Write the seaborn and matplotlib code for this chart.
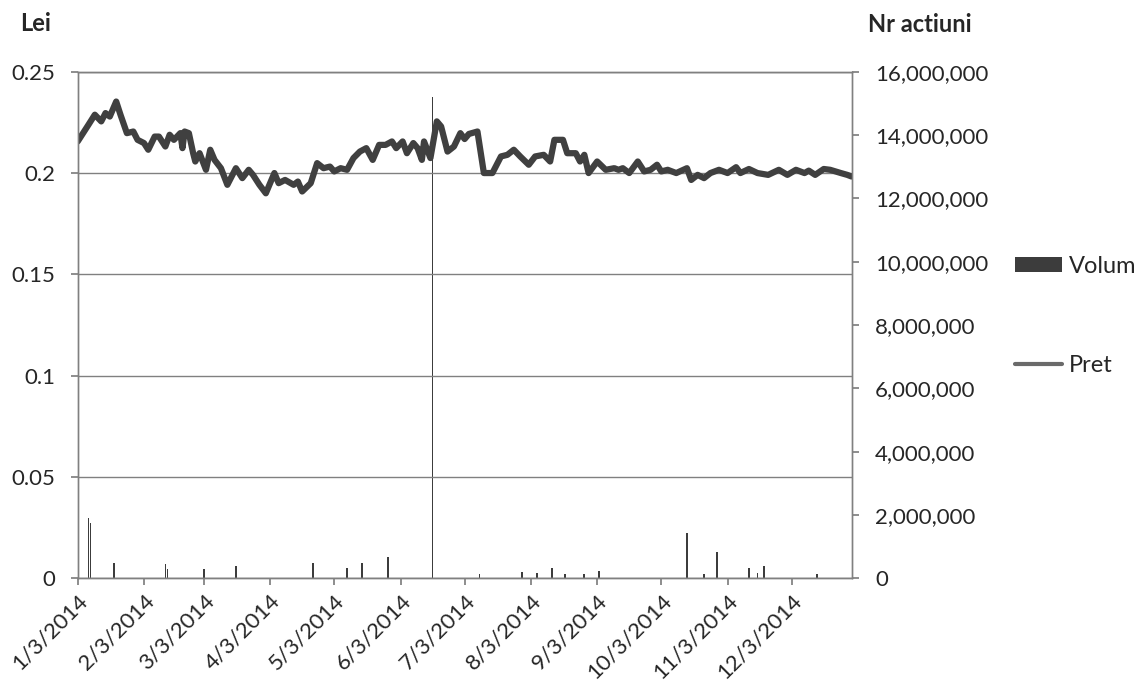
import matplotlib
matplotlib.use("Agg")
import matplotlib.pyplot as plt
import matplotlib.dates as mdates
import matplotlib.ticker as mticker
from matplotlib.patches import Patch
from matplotlib.lines import Line2D
import seaborn as sns
import pandas as pd

# Pret (Lei)
price_dates = [
    "2014-01-03", "2014-01-08", "2014-01-11", "2014-01-14", "2014-01-16", "2014-01-18",
    "2014-01-21", "2014-01-23", "2014-01-26", "2014-01-29", "2014-01-31", "2014-02-03",
    "2014-02-05", "2014-02-08", "2014-02-10", "2014-02-13", "2014-02-15", "2014-02-17",
    "2014-02-20", "2014-02-21", "2014-02-22", "2014-02-24", "2014-02-26", "2014-02-27",
    "2014-03-01", "2014-03-04", "2014-03-06", "2014-03-08", "2014-03-11", "2014-03-14",
    "2014-03-18", "2014-03-21", "2014-03-24", "2014-03-26", "2014-03-29", "2014-04-01",
    "2014-04-05", "2014-04-07", "2014-04-10", "2014-04-14", "2014-04-16", "2014-04-18",
    "2014-04-22", "2014-04-25", "2014-04-28", "2014-05-01", "2014-05-03", "2014-05-06",
    "2014-05-09", "2014-05-12", "2014-05-15", "2014-05-18", "2014-05-21", "2014-05-24",
    "2014-05-27", "2014-05-30", "2014-06-01", "2014-06-04", "2014-06-06", "2014-06-09",
    "2014-06-11", "2014-06-13", "2014-06-14", "2014-06-17", "2014-06-20", "2014-06-22",
    "2014-06-25", "2014-06-28", "2014-07-01", "2014-07-03", "2014-07-05", "2014-07-09",
    "2014-07-12", "2014-07-16", "2014-07-20", "2014-07-23", "2014-07-26", "2014-07-29",
    "2014-08-02", "2014-08-05", "2014-08-09", "2014-08-12", "2014-08-14", "2014-08-18",
    "2014-08-20", "2014-08-24", "2014-08-26", "2014-08-28", "2014-08-30", "2014-09-03",
    "2014-09-07", "2014-09-11", "2014-09-13", "2014-09-15", "2014-09-18", "2014-09-22",
    "2014-09-25", "2014-09-28", "2014-10-01", "2014-10-03", "2014-10-06", "2014-10-10",
    "2014-10-15", "2014-10-17", "2014-10-20", "2014-10-23", "2014-10-26", "2014-10-30",
    "2014-11-03", "2014-11-07", "2014-11-09", "2014-11-13", "2014-11-17", "2014-11-22",
    "2014-11-27", "2014-12-01", "2014-12-05", "2014-12-09", "2014-12-11", "2014-12-14",
    "2014-12-18", "2014-12-21", "2014-12-26", "2014-12-29", "2014-12-31",
]
price_values = [
    0.2156, 0.2238, 0.2288, 0.2255, 0.2296, 0.2279,
    0.2353, 0.2288, 0.2197, 0.2205, 0.2164, 0.2148,
    0.2115, 0.2180, 0.2180, 0.2131, 0.2189, 0.2164,
    0.2197, 0.2123, 0.2205, 0.2197, 0.2098, 0.2057,
    0.2098, 0.2016, 0.2115, 0.2065, 0.2024, 0.1942,
    0.2024, 0.1975, 0.2016, 0.1991, 0.1942, 0.1900,
    0.2000, 0.1950, 0.1966, 0.1942, 0.1958, 0.1909,
    0.1950, 0.2049, 0.2024, 0.2032, 0.2008, 0.2024,
    0.2016, 0.2074, 0.2106, 0.2123, 0.2065, 0.2139,
    0.2139, 0.2156, 0.2123, 0.2156, 0.2098, 0.2148,
    0.2123, 0.2065, 0.2156, 0.2074, 0.2255, 0.2230,
    0.2106, 0.2131, 0.2197, 0.2168, 0.2193, 0.2205,
    0.2000, 0.2000, 0.2082, 0.2090, 0.2115, 0.2082,
    0.2041, 0.2082, 0.2090, 0.2057, 0.2164, 0.2164,
    0.2098, 0.2098, 0.2057, 0.2090, 0.2000, 0.2057,
    0.2016, 0.2024, 0.2016, 0.2024, 0.2000, 0.2057,
    0.2008, 0.2016, 0.2041, 0.2008, 0.2016, 0.2000,
    0.2024, 0.1966, 0.1991, 0.1975, 0.2000, 0.2016,
    0.2000, 0.2029, 0.2000, 0.2020, 0.2000, 0.1991,
    0.2016, 0.1991, 0.2016, 0.2000, 0.2012, 0.1991,
    0.2020, 0.2016, 0.2000, 0.1991, 0.1983,
]

# Volum (Nr actiuni)
volume_dates = [
    "2014-01-08", "2014-01-09", "2014-01-20", "2014-02-13", "2014-02-14", "2014-03-03",
    "2014-03-18", "2014-04-23", "2014-05-09", "2014-05-16", "2014-05-28", "2014-06-18",
    "2014-07-10", "2014-07-30", "2014-08-06", "2014-08-13", "2014-08-19", "2014-08-28",
    "2014-09-04", "2014-10-15", "2014-10-23", "2014-10-29", "2014-11-13", "2014-11-17",
    "2014-11-20", "2014-12-15",
]
volume_values = [
    1900000, 1740000, 470000, 440000, 280000, 280000,
    380000, 470000, 320000, 470000, 660000, 15200000,
    130000, 190000, 160000, 320000, 130000, 130000,
    220000, 1420000, 130000, 820000, 320000, 160000,
    380000, 130000,
]

price = pd.DataFrame({"Data": pd.to_datetime(price_dates), "Pret": price_values})
volume = pd.DataFrame({"Data": pd.to_datetime(volume_dates), "Volum": volume_values})

sns.set_theme(style="white")
plt.rcParams["font.family"] = ["Lato", "DejaVu Sans"]

grid_col = "#808080"
line_col = "#404040"
bar_col = "#3c3c3c"

fig = plt.figure(figsize=(11.43, 6.9), dpi=100)
ax = fig.add_axes([0.068, 0.162, 0.677, 0.734])
ax2 = ax.twinx()

ax2.bar(volume["Data"], volume["Volum"], width=0.8, color=bar_col, linewidth=0)
sns.lineplot(data=price, x="Data", y="Pret", ax=ax, color=line_col, linewidth=4.5)

# price on top of the volume bars
ax.set_zorder(ax2.get_zorder() + 1)
ax.patch.set_visible(False)

ax.set_xlim(pd.Timestamp("2014-01-03"), pd.Timestamp("2014-12-31"))
ax.set_ylim(0, 0.25)
ax2.set_ylim(0, 16000000)

ax.set_yticks([0, 0.05, 0.1, 0.15, 0.2, 0.25])
ax.yaxis.set_major_formatter(mticker.FuncFormatter(lambda v, p: "0" if v == 0 else f"{v:g}"))
ax2.set_yticks(range(0, 16000001, 2000000))
ax2.yaxis.set_major_formatter(mticker.FuncFormatter(lambda v, p: f"{int(v):,}"))

ax.xaxis.set_major_locator(mdates.MonthLocator(bymonthday=3))
ax.xaxis.set_major_formatter(mticker.FuncFormatter(
    lambda v, p: f"{mdates.num2date(v).month}/{mdates.num2date(v).day}/{mdates.num2date(v).year}"))

ax.grid(axis="y", color=grid_col, linewidth=1)
ax.grid(axis="x", visible=False)
ax2.grid(False)

ax.set_xlabel("")
ax.set_ylabel("")
ax2.set_ylabel("")

for a in (ax, ax2):
    for s in a.spines.values():
        s.set_color(grid_col)
        s.set_linewidth(1)

ax.tick_params(axis="y", labelsize=16, length=5, color=grid_col, direction="out", left=True, pad=11)
ax2.tick_params(axis="y", labelsize=16, length=5, color=grid_col, direction="out", right=True, pad=12)
ax.tick_params(axis="x", labelsize=16, length=5, color=grid_col, direction="out", bottom=True, pad=4)
for lbl in ax.get_xticklabels():
    lbl.set_rotation(45)
    lbl.set_ha("right")
    lbl.set_rotation_mode("anchor")

fig.text(0.0175, 0.966, "Lei", fontsize=17, fontweight="bold", ha="left", va="center")
fig.text(0.759, 0.964, "Nr actiuni", fontsize=17, fontweight="bold", ha="left", va="center")

handles = [
    Patch(facecolor=bar_col, edgecolor="none"),
    Line2D([0], [0], color="#6a6a6a", linewidth=3),
]
fig.legend(handles, ["Volum", "Pret"], loc="center left", bbox_to_anchor=(0.888, 0.542),
           frameon=False, fontsize=17, labelspacing=3.3, handlelength=2.0,
           handleheight=0.6, handletextpad=0.3, borderpad=0, borderaxespad=0)

fig.savefig("out.png", dpi=100)
